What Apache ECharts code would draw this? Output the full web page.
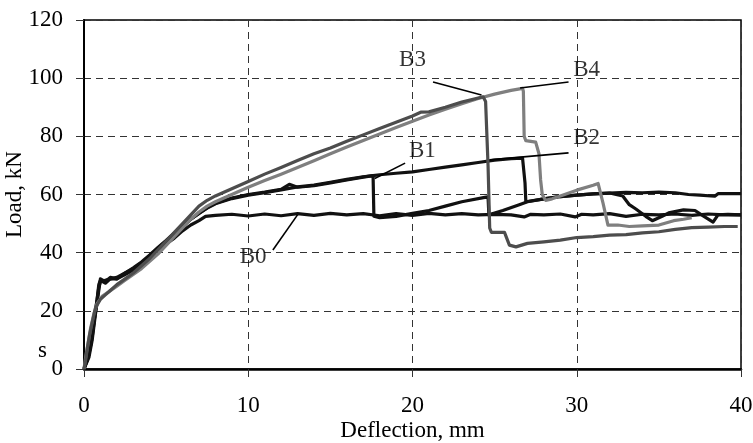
<!DOCTYPE html>
<html>
<head>
<meta charset="utf-8">
<script src="https://cdn.jsdelivr.net/npm/echarts@6/dist/echarts.min.js"></script>
<style>html,body{margin:0;padding:0;background:#fff}#c{width:753px;height:443px}</style>
</head>
<body>
<div id="c"></div>
<script>
var xTicks = [0, 10, 20, 30, 40];
var yTicks = [0, 20, 40, 60, 80, 100, 120];

var seriesNames = ['B0', 'B1', 'B2', 'B3', 'B4'];

var B0 = [[0,0],[0.2,3],[0.4,8],[0.6,16],[0.8,24],[0.9,29],[1.0,30.5],[1.3,29.5],[1.6,31],[2.0,31],[2.5,32.5],[3,34],[3.5,36],[4,38.5],[4.5,41],[5,43],[5.5,45],[6,47.5],[6.5,49.5],[7,51],[7.4,52.5],[8,52.8],[9,53.2],[10,52.6],[11,53.3],[12,52.7],[13,53.4],[14,52.8],[15,53.5],[16,53],[17,53.4],[18,52.7],[19,53.4],[20,52.8],[21,53.5],[22,53],[23,53.4],[24,53],[25,53.2],[26,53],[26.8,52.3],[27.2,53.2],[28,53],[29,53.3],[29.9,52.3],[30.3,53.2],[31,53],[32,53.4],[33,52.5],[34,53.2],[35,53],[36,53.3],[37,52.8],[38,53.3],[39,53],[40,53]];

var B1 = [[0,0],[0.3,4],[0.5,10],[0.7,19],[0.9,27],[1.0,31],[1.3,30],[1.6,31.5],[2,31],[2.5,33],[3,34.5],[3.5,36.5],[4,39],[4.5,41.5],[5,44],[5.5,46.5],[6,49],[6.5,51.5],[7,53.5],[7.5,55.5],[8,57],[9,58.8],[10,60],[11,60.8],[12,61.8],[12.5,63.5],[13,62.5],[14,63],[15,64],[16,65],[17,66],[17.6,66.5],[17.65,52.5],[18,52],[19,52.5],[20,53.5],[21,54.5],[22,56],[23,57.5],[24.4,59],[24.6,59.2],[24.65,53],[25.5,54.5],[26.5,56.5],[27,57.5],[28,58.5],[29,59.3],[30,59.8],[31,60.2],[32,60.5],[32.8,59.5],[33.2,56.5],[33.6,55],[34.2,52.5],[34.6,51],[35.2,52.5],[35.6,53.7],[36.5,54.7],[37.2,54.5],[37.6,53],[38.3,50.5],[38.6,53],[39.2,53.2],[40,53]];

var B2 = [[0,0],[0.3,5],[0.5,11],[0.7,20],[0.9,28],[1.0,30],[1.3,30.5],[1.6,31],[2,31.5],[2.5,33],[3,34.8],[3.5,36.8],[4,39.2],[4.5,41.8],[5,44.2],[5.5,46.8],[6,49.2],[6.5,51.5],[7,53.5],[7.5,55.3],[8,56.8],[9,58.6],[10,59.8],[11,60.6],[12,61.6],[13,62.6],[14,63.2],[15,64.2],[16,65.2],[17,66.1],[17.6,66.5],[18,66.8],[19,67.3],[20,67.8],[21,68.6],[22,69.4],[23,70.2],[24,71],[25,71.8],[26,72.3],[26.7,72.5],[26.8,72.3],[26.85,64],[26.9,57.5],[27,57.5],[28,58.5],[29,59.3],[30,59.8],[31,60.2],[32,60.5],[33,60.7],[34,60.6],[35,60.8],[36,60.6],[36.8,60],[37.5,59.8],[38.4,59.4],[38.6,60.3],[39,60.3],[40,60.3]];

var B3 = [[0,0],[0.1,3],[0.2,7],[0.35,12],[0.5,16],[0.7,21],[1.0,24],[1.3,25.5],[1.6,27],[2,29],[2.5,31],[3,33],[3.5,35.5],[4,38],[4.5,41],[5,44],[5.5,47],[6,50],[6.5,53],[7,56],[7.5,58],[8,59.5],[9,62],[10,64.5],[11,67],[12,69.3],[13,71.7],[14,74],[15,76],[16,78.3],[17,80.5],[18,82.7],[19,84.8],[20,87],[20.5,88.3],[21,88.4],[22,90],[23,91.8],[24,93.2],[24.3,93.6],[24.45,92],[24.6,70],[24.7,48.5],[24.8,47],[25.6,47],[25.7,45.5],[25.9,42.6],[26.3,42],[27,43.2],[28,43.7],[29,44.3],[30,45.2],[31,45.5],[32,46],[33,46.2],[34,46.8],[35,47.2],[36,48],[37,48.6],[38,48.8],[39,49],[39.8,49]];

var B4 = [[0,0],[0.1,4],[0.25,9],[0.4,14],[0.6,19],[0.8,22.5],[1.1,25],[1.5,26.5],[2,28.5],[2.5,30.5],[3,32.5],[3.5,34.5],[4,37],[4.5,39.5],[5,42.5],[5.5,45.5],[6,48.5],[6.5,51.5],[7,54],[7.5,56],[8,57.5],[9,60],[10,62.5],[11,64.8],[12,67],[13,69.3],[14,71.6],[15,74],[16,76.3],[17,78.6],[18,80.8],[19,83],[20,85.2],[21,87.3],[22,89.3],[23,91.2],[24,93],[25,94.5],[26,95.8],[26.7,96.5],[26.75,95.5],[26.8,80],[26.9,78.5],[27.5,78],[27.7,74],[27.8,65],[27.9,60],[28.1,58],[28.5,58.5],[29,59.5],[30,61.5],[31,63.2],[31.3,63.8],[31.6,57],[31.9,49.5],[32.5,49.5],[33.2,49],[34,49.2],[35,49.5],[35.9,51],[36.5,51.5],[37,52]];

// annotation text positions (data coords) and leader lines
var labelPos = [[10.3,38.5],[20.6,75],[30.6,79.4],[20.0,106.3],[30.6,102.8]];
var leaderFrom = [[11.5,40.9],[19.55,70.8],[29.5,74.3],[21.25,98.7],[29.5,98.7]];
var leaderTo = [[13.0,53],[17.7,65.5],[24.7,71.9],[24.2,94.2],[26.55,96.6]];

var colors = {B0:'#111111', B1:'#111111', B2:'#111111', B3:'#4d4d4d', B4:'#7f7f7f'};
var dataMap = {B0:B0, B1:B1, B2:B2, B3:B3, B4:B4};
var drawOrder = ['B0','B1','B2','B4','B3'];

var FONT = 'Liberation Serif';
var FS = 23;
var chart = echarts.init(document.getElementById('c'), null, {renderer:'canvas'});

var series = drawOrder.map(function(n){
  return {
    name: n, type: 'line', data: dataMap[n], showSymbol: false, symbol: 'none',
    lineStyle: {color: colors[n], width: 3.2, join: 'round'},
    animation: false, silent: true
  };
});

series.push({
  type: 'line', data: [], silent: true, animation: false,
  markLine: {
    silent: true, symbol: ['none','none'], animation: false,
    label: {show: false},
    lineStyle: {color: '#000', width: 1.6, type: 'solid'},
    data: leaderFrom.map(function(p, i){ return [{coord: p}, {coord: leaderTo[i]}]; })
  }
});

series.push({
  type: 'scatter', symbolSize: 0, silent: true, animation: false,
  data: seriesNames.map(function(n, i){ return {name: n, value: labelPos[i]}; }),
  label: {show: true, position: 'inside', formatter: '{b}', color: '#000', fontFamily: FONT, fontSize: FS}
});

chart.setOption({
  backgroundColor: '#fff',
  animation: false,
  grid: {left: 84, right: 12, top: 20, bottom: 74, containLabel: false, outerBoundsMode: 'none', show: true, borderColor: '#000', borderWidth: 1.5, backgroundColor: 'transparent'},
  xAxis: {
    type: 'value', min: xTicks[0], max: xTicks[xTicks.length-1], interval: 10,
    name: 'Deflection, mm', nameLocation: 'middle', nameGap: 50, nameMoveOverlap: false,
    nameTextStyle: {fontFamily: FONT, fontSize: FS, color: '#000'},
    axisLine: {show: true, onZero: false, lineStyle: {color: '#000', width: 2.5}},
    axisTick: {show: true, length: 8, lineStyle: {color: '#333', width: 1}},
    axisLabel: {margin: 25, fontFamily: FONT, fontSize: FS, color: '#000'},
    splitLine: {show: true, lineStyle: {color: '#333', type: [7,5], width: 1}}
  },
  yAxis: {
    type: 'value', min: yTicks[0], max: yTicks[yTicks.length-1], interval: 20,
    name: 'Load, kN', nameLocation: 'middle', nameGap: 58, nameRotate: 90, nameMoveOverlap: false,
    nameTextStyle: {fontFamily: FONT, fontSize: FS, color: '#000'},
    axisLine: {show: true, onZero: false, lineStyle: {color: '#000', width: 2}},
    axisTick: {show: true, length: 8, lineStyle: {color: '#333', width: 1}},
    axisLabel: {margin: 21, fontFamily: FONT, fontSize: FS, color: '#000'},
    splitLine: {show: true, lineStyle: {color: '#333', type: [7,5], width: 1}}
  },
  graphic: [{type: 'text', left: 38, top: 339, style: {text: 's', font: '23px "Liberation Serif"', fill: '#000'}}],
  series: series
});
</script>
</body>
</html>
